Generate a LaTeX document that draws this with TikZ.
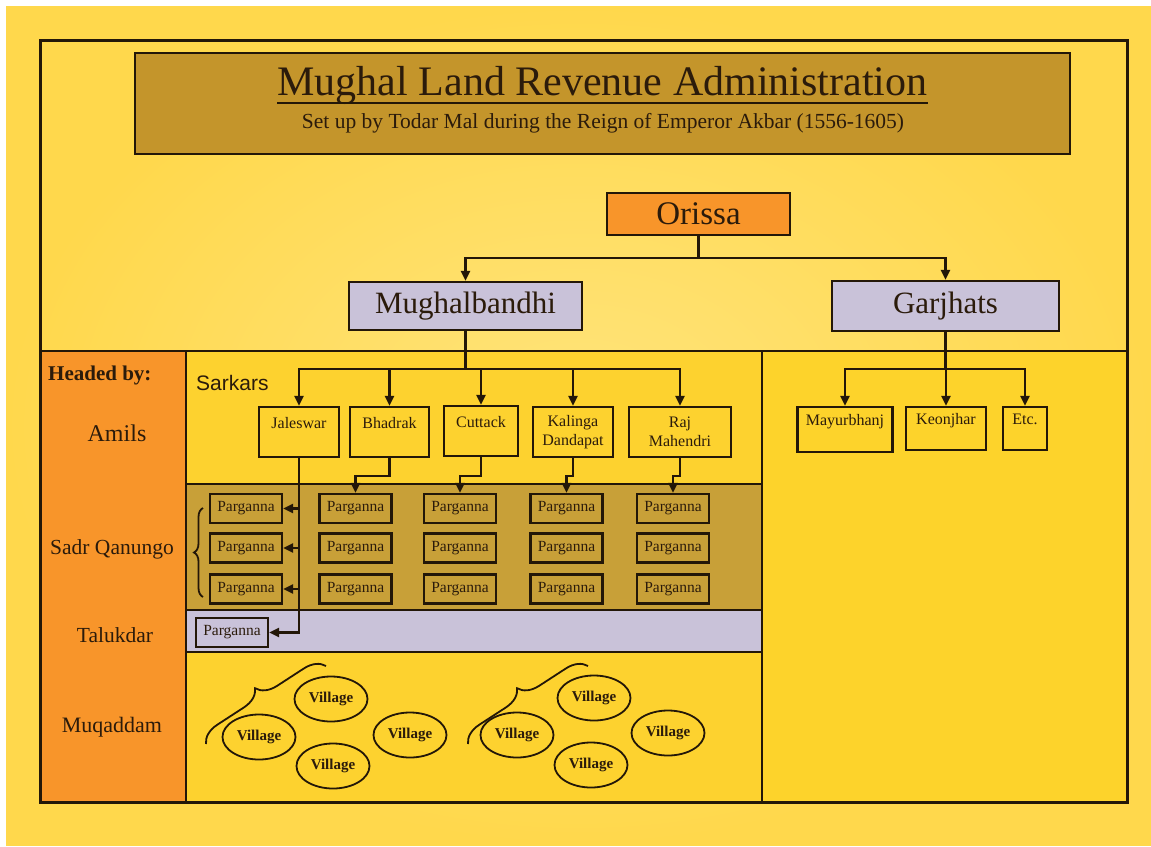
\documentclass[tikz,border=0pt]{standalone}
\usepackage{fontspec}
\setmainfont{Liberation Serif}
\newfontfamily\sarkfont{Liberation Sans}
\usetikzlibrary{arrows.meta,decorations.pathreplacing,shapes.geometric}
\definecolor{bgout}{HTML}{FFD84C}
\definecolor{bgin}{HTML}{FFE47C}
\definecolor{titlefill}{HTML}{C4952B}
\definecolor{orangec}{HTML}{F8952A}
\definecolor{lav}{HTML}{C9C2D9}
\definecolor{sarkband}{HTML}{FDD22F}
\definecolor{rightp}{HTML}{FDD32B}
\definecolor{pargband}{HTML}{C8A038}
\definecolor{lc}{HTML}{231708}
\definecolor{tc}{HTML}{2B1B0B}
\newcommand\fsz[2]{\fontsize{#1}{#2}\selectfont}
\begin{document}
\begin{tikzpicture}[x=1pt,y=-1pt,
  box/.style={draw=lc, line width=2.3pt, inner sep=0pt, text=tc},
  sark/.style={box, fill=sarkband, align=center, font=\fsz{16}{19}, minimum height=50pt},
  garj/.style={box, fill=rightp, align=center, font=\fsz{16}{19}, minimum height=44pt},
  parg/.style={box, fill=pargband, minimum width=72pt, minimum height=29pt, font=\fsz{15.5}{18}},
  vil/.style={ellipse, draw=lc, line width=1.8pt, minimum width=73pt, minimum height=45pt, inner sep=0pt, text=tc, font=\bfseries\fsz{15}{18}},
  conn/.style={draw=lc, line width=2.2pt},
  arr/.style={conn, -{Triangle[length=10pt,width=9pt]}},
  panel/.style={draw=lc, line width=1.8pt},
  lbl/.style={text=tc, inner sep=0pt},
  vbrace/.style={draw=lc, line width=1.8pt, decorate, decoration={brace, amplitude=#1}}
]
\useasboundingbox (0,0) rectangle (1151,846);
\fill[white] (0,0) rectangle (1151,846);
\shade[inner color=bgin, outer color=bgout] (6,6) rectangle (1151,845);
% lower panels
\fill[orangec] (40,351) rectangle (186,802);
\fill[sarkband] (186,351) rectangle (762,484);
\fill[pargband] (186,484) rectangle (762,610);
\fill[lav] (186,610) rectangle (762,652);
\fill[sarkband] (186,652) rectangle (762,802);
\fill[rightp] (762,351) rectangle (1127,802);
\draw[panel] (40,351) -- (1127,351);
\draw[panel] (186,351) -- (186,802);
\draw[panel] (762,351) -- (762,802);
\draw[panel] (186,484) -- (762,484);
\draw[panel] (186,610) -- (762,610);
\draw[panel] (186,652) -- (762,652);
\draw[draw=lc, line width=3pt] (40,40) rectangle (1127,802);
% title
\node[box, fill=titlefill, minimum width=935pt, minimum height=101pt] (tbox) at (602.5,103.5) {};
\node[lbl, anchor=base, font=\fsz{42}{50}] (title) at (602.5,95) {Mughal Land Revenue Administration};
\draw[draw=lc, line width=2.4pt] ([yshift=-8pt]title.base west) -- ([yshift=-8pt]title.base east);
\node[lbl, anchor=base, font=\fsz{21.5}{26}] (subtitle) at (603,128) {Set up by Todar Mal during the Reign of Emperor Akbar (1556-1605)};
% top hierarchy
\node[box, fill=orangec, minimum width=183pt, minimum height=42pt, font=\fsz{33}{40}] (ori) at (698.5,214) {Orissa};
\node[box, fill=lav, minimum width=233pt, minimum height=48pt, font=\fsz{31}{38}] (mb) at (465.5,306) {Mughalbandhi};
\node[box, fill=lav, minimum width=227pt, minimum height=50pt, font=\fsz{31}{38}] (gj) at (945.5,306) {Garjhats};
\coordinate (ob) at (698.5,258);
\draw[conn] (ori.south) -- (ob);
\draw[arr] (ob) -| (mb.north);
\draw[arr] (ob) -| (gj.north);
% left column labels
\node[lbl, anchor=base west, font=\bfseries\fsz{21}{25}] (headed) at (48,380) {Headed by:};
\node[lbl, font=\fsz{24}{28}] (amils) at (117,433) {Amils};
\node[lbl, font=\fsz{21.5}{26}] (sadr) at (112,549) {Sadr Qanungo};
\node[lbl, font=\fsz{21.5}{26}] (taluk) at (115,635) {Talukdar};
\node[lbl, font=\fsz{22}{26}] (muq) at (112,727) {Muqaddam};
\node[lbl, anchor=base west, font=\sarkfont\fsz{21}{25}] (sarkars) at (196,390) {Sarkars};
% sarkars
\node[sark, minimum width=80pt] (jal) at (299,432) {Jaleswar\\~};
\node[sark, minimum width=79pt] (bha) at (389.5,432) {Bhadrak\\~};
\node[sark, minimum width=74pt] (cut) at (481,431) {Cuttack\\~};
\node[sark, minimum width=80pt] (kal) at (573,432) {Kalinga\\Dandapat};
\node[sark, minimum width=102pt] (raj) at (680,432) {Raj\\Mahendri};
\coordinate (sk) at (465.5,369);
\draw[conn] (mb.south) -- (sk);
\foreach \s in {jal,bha,cut,kal,raj} \draw[arr] (sk) -| (\s.north);
% garjhat states
\node[garj, minimum width=95pt, minimum height=45pt] (may) at (845,429.5) {Mayurbhanj\\~};
\node[garj, minimum width=80pt, minimum height=43pt] (keo) at (946,428.5) {Keonjhar\\~};
\node[garj, minimum width=44pt, minimum height=43pt] (etc) at (1025,428.5) {Etc.\\~};
\coordinate (gk) at (945.5,369);
\draw[conn] (gj.south) -- (gk);
\foreach \s in {may,keo,etc} \draw[arr] (gk) -| (\s.north);
% pargannas
\foreach \c/\x in {1/246,2/355.5,3/460,4/566.5,5/673}
  \foreach \r/\y in {1/508.5,2/548,3/589}
    \node[parg] (p\c\r) at (\x,\y) {Parganna};
\node[parg, fill=lav] (tal) at (232,632.5) {Parganna};
% Jaleswar feeds
\draw[arr] (jal.south) |- (tal.east);
\foreach \r in {1,2,3} \draw[arr] (jal.south |- p1\r.east) -- (p1\r.east);
% other sarkars feed parganna columns
\draw[arr] (bha.south) -- ++(0,18) -| (p21.north);
\draw[arr] (cut.south) -- ++(0,19) -| (p31.north);
\draw[arr] (kal.south) -- ++(0,18) -| (p41.north);
\draw[arr] (raj.south) -- ++(0,18) -| (p51.north);
% brace
\coordinate (b1a) at (203,597);
\coordinate (b1b) at (203,508);
\draw[vbrace=9pt] (b1a) -- (b1b);
% villages group 1
\node[vil] (v1) at (331,699) {Village};
\node[vil] (v2) at (259,737) {Village};
\node[vil] (v3) at (410,735) {Village};
\node[vil] (v4) at (333,766) {Village};
\coordinate (vb1a) at (206,744);
\coordinate (vb1b) at (326,666);
\draw[vbrace=20pt] (vb1a) -- (vb1b);
% villages group 2
\node[vil] (v5) at (594,698) {Village};
\node[vil] (v6) at (517,735) {Village};
\node[vil] (v7) at (668,733) {Village};
\node[vil] (v8) at (591,765) {Village};
\coordinate (vb2a) at (468,744);
\coordinate (vb2b) at (588,666);
\draw[vbrace=20pt] (vb2a) -- (vb2b);
\end{tikzpicture}
\end{document}
